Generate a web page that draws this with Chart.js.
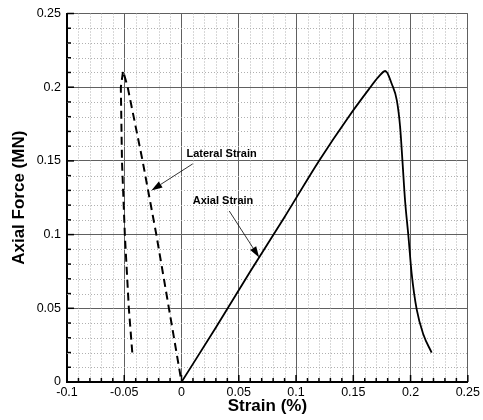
<!DOCTYPE html>
<html>
<head>
<meta charset="utf-8">
<script src="https://cdn.jsdelivr.net/npm/chart.js@4"></script>
<style>
  html, body { margin: 0; padding: 0; background: #fff; }
  canvas { display: block; }
</style>
</head>
<body>
<canvas id="myChart" width="483" height="420"></canvas>
<script>
// values
const axialX = [0, 0.03, 0.06, 0.09, 0.12, 0.146, 0.163, 0.172, 0.178, 0.1836, 0.188, 0.1909, 0.1929, 0.1952, 0.198, 0.201, 0.2053, 0.2111, 0.2184];
const axialY = [0, 0.037, 0.075, 0.112, 0.15, 0.18, 0.198, 0.207, 0.211, 0.2022, 0.191, 0.1728, 0.15, 0.123, 0.0999, 0.0732, 0.0494, 0.0324, 0.0199];
const lateralX = [-0.043, -0.046, -0.0495, -0.052, -0.053, -0.051, -0.047, -0.034, -0.022, -0.011, 0];
const lateralY = [0.02, 0.05, 0.1, 0.15, 0.2, 0.211, 0.2, 0.15, 0.1, 0.05, 0];
const xTickLabels = ["-0.1", "-0.05", "0", "0.05", "0.1", "0.15", "0.2", "0.25"];
const yTickLabels = ["0", "0.05", "0.1", "0.15", "0.2", "0.25"];

// text labels with arrows, in data units
const notes = [
  { text: "Lateral Strain", at: [0.0043, 0.155], from: [0.0098, 0.148], to: [-0.0263, 0.130] },
  { text: "Axial Strain", at: [0.0098, 0.123], from: [0.0417, 0.116], to: [0.0678, 0.0845] },
];

const FONT = "'Liberation Sans', Arial, sans-serif";

function toPoints(xs, ys) {
  return xs.map((x, i) => ({ x: x, y: ys[i] }));
}

const extras = {
  id: "extras",
  beforeDatasetsDraw(chart) {
    const { ctx, chartArea: a, scales } = chart;
    ctx.save();
    ctx.strokeStyle = "#b0b0b0";
    ctx.lineWidth = 1;
    ctx.setLineDash([1, 2]);
    for (let i = -10; i <= 25; i++) {
      if (i % 5 === 0) continue;
      const px = Math.round(scales.x.getPixelForValue(i / 100)) + 0.5;
      ctx.beginPath(); ctx.moveTo(px, a.top); ctx.lineTo(px, a.bottom); ctx.stroke();
    }
    for (let i = 0; i <= 25; i++) {
      if (i % 5 === 0) continue;
      const py = Math.round(scales.y.getPixelForValue(i / 100)) + 0.5;
      ctx.beginPath(); ctx.moveTo(a.left, py); ctx.lineTo(a.right, py); ctx.stroke();
    }
    ctx.restore();
  },
  afterDatasetsDraw(chart) {
    const { ctx, chartArea: a, scales } = chart;
    ctx.save();
    ctx.strokeStyle = "#000";
    ctx.lineWidth = 1.5;
    // inward tick marks
    for (let i = -10; i <= 25; i++) {
      const px = scales.x.getPixelForValue(i / 100);
      const len = i % 5 === 0 ? 7 : 4;
      ctx.beginPath(); ctx.moveTo(px, a.bottom); ctx.lineTo(px, a.bottom - len); ctx.stroke();
    }
    for (let i = 0; i <= 25; i++) {
      const py = scales.y.getPixelForValue(i / 100);
      const len = i % 5 === 0 ? 7 : 4;
      ctx.beginPath(); ctx.moveTo(a.left, py); ctx.lineTo(a.left + len, py); ctx.stroke();
    }
    // notes
    ctx.fillStyle = "#000";
    ctx.font = "bold 11px " + FONT;
    ctx.textBaseline = "middle";
    ctx.textAlign = "left";
    notes.forEach(n => {
      const tx = scales.x.getPixelForValue(n.at[0]);
      const ty = scales.y.getPixelForValue(n.at[1]);
      ctx.fillText(n.text, tx, ty);
      const x1 = scales.x.getPixelForValue(n.from[0]);
      const y1 = scales.y.getPixelForValue(n.from[1]);
      const x2 = scales.x.getPixelForValue(n.to[0]);
      const y2 = scales.y.getPixelForValue(n.to[1]);
      const ang = Math.atan2(y2 - y1, x2 - x1);
      const hl = 11, hw = 3.5;
      ctx.lineWidth = 0.8;
      ctx.beginPath(); ctx.moveTo(x1, y1);
      ctx.lineTo(x2 - Math.cos(ang) * hl, y2 - Math.sin(ang) * hl); ctx.stroke();
      ctx.beginPath();
      ctx.moveTo(x2, y2);
      ctx.lineTo(x2 - Math.cos(ang) * hl - Math.sin(ang) * hw, y2 - Math.sin(ang) * hl + Math.cos(ang) * hw);
      ctx.lineTo(x2 - Math.cos(ang) * hl + Math.sin(ang) * hw, y2 - Math.sin(ang) * hl - Math.cos(ang) * hw);
      ctx.closePath(); ctx.fill();
    });
    ctx.restore();
  },
};

new Chart(document.getElementById("myChart"), {
  type: "scatter",
  data: {
    datasets: [
      {
        label: "Axial Strain",
        data: toPoints(axialX, axialY),
        showLine: true,
        borderColor: "#000",
        borderWidth: 1.8,
        pointRadius: 0,
        cubicInterpolationMode: "monotone",
      },
      {
        label: "Lateral Strain",
        data: toPoints(lateralX, lateralY),
        showLine: true,
        borderColor: "#000",
        borderWidth: 2,
        borderDash: [8, 5],
        pointRadius: 0,
        tension: 0,
      },
    ],
  },
  options: {
    responsive: false,
    animation: false,
    layout: { padding: { top: 12, right: 13, left: 0, bottom: 0 } },
    plugins: { legend: { display: false }, tooltip: { enabled: false } },
    scales: {
      x: {
        type: "linear",
        min: -0.1,
        max: 0.25,
        afterFit: (s) => { s.height = 38; },
        ticks: {
          stepSize: 0.05,
          padding: 3,
          autoSkip: false,
          color: "#000",
          font: { family: FONT, size: 12.5 },
          maxRotation: 0,
          callback: (v, i) => xTickLabels[i],
        },
        grid: { color: "#606060", lineWidth: 1, drawTicks: false },
        border: { color: "#000", width: 2 },
        title: {
          display: true,
          text: "Strain (%)",
          color: "#000",
          font: { family: FONT, size: 17, weight: "bold" },
          padding: { top: 0, bottom: 3 },
        },
      },
      y: {
        type: "linear",
        min: 0,
        max: 0.25,
        afterFit: (s) => { s.width = 67; },
        ticks: {
          stepSize: 0.05,
          padding: 6,
          autoSkip: false,
          color: "#000",
          font: { family: FONT, size: 12.5 },
          callback: (v, i) => yTickLabels[i],
        },
        grid: { color: "#606060", lineWidth: 1, drawTicks: false },
        border: { color: "#000", width: 2 },
        title: {
          display: true,
          text: "Axial Force (MN)",
          color: "#000",
          font: { family: FONT, size: 17, weight: "bold" },
          padding: { top: 9, bottom: 0 },
        },
      },
    },
  },
  plugins: [extras],
});
</script>
</body>
</html>
